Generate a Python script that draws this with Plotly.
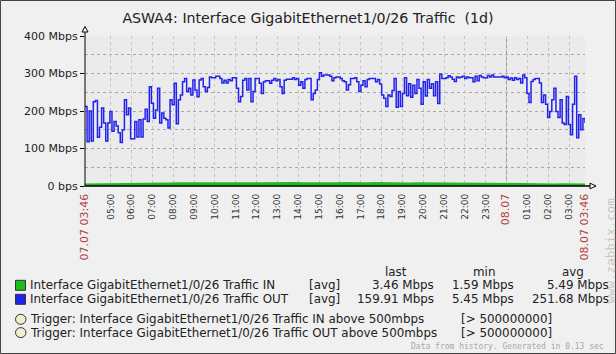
import plotly.graph_objects as go
from datetime import datetime, timedelta

# ---------------- data ----------------
title_text = "ASWA4: Interface GigabitEthernet1/0/26 Traffic  (1d)"
start_time = datetime(2023, 7, 7, 3, 46)
end_time = start_time + timedelta(hours=24)

# Traffic OUT (Mbps), evenly spaced over the 24h period
out_mbps = [
    212, 118, 200, 120, 225, 228, 130, 157, 208, 168, 120, 168, 199, 146, 172, 160,
    142, 116, 150, 230, 190, 208, 126, 126, 172, 131, 177, 131, 179, 205, 172, 265,
    221, 181, 203, 261, 168, 195, 181, 177, 155, 230, 217, 274, 166, 230, 243, 278,
    287, 252, 261, 243, 283, 256, 238, 283, 287, 265, 252, 263, 291,
    289, 289, 293, 293, 287, 275, 282, 275, 284, 281, 289, 289, 261, 225, 239, 282,
    287, 256, 287, 225, 252, 287, 287, 274, 247, 278, 281, 281, 274, 282, 287, 281,
    284, 265, 247, 282, 285, 285, 285, 289, 284, 287, 269, 278, 261, 284, 287, 287,
    230, 247, 256, 284, 302, 293, 296, 296, 296, 293, 281, 289, 291,
    291, 287, 281, 278, 256, 270, 287, 287, 289, 278, 252, 269, 281, 265, 284, 287,
    287, 287, 278, 284, 272, 243, 234, 212, 243, 239, 255, 287, 210, 252, 212, 247,
    289, 241, 273, 237, 269, 247, 284, 261, 218, 278, 240, 284, 261, 273, 241, 278,
    220, 298, 287, 287, 289, 294, 291, 285, 279, 291, 289, 291, 293,
    287, 291, 289, 289, 278, 293, 281, 295, 291, 289, 289, 295, 291, 296, 291, 291,
    291, 291, 293, 289, 291, 284, 288, 282, 289, 284, 287, 275, 296, 289, 247, 223,
    279, 284, 287, 287, 275, 223, 243, 218, 183, 199, 230, 261, 199, 183, 230, 168,
    164, 239, 164, 137, 218, 293, 129, 190, 150, 180, 168,
]

# Traffic IN (Mbps), every 30 minutes
in_mbps = [
    3.2, 3.5, 3.0, 3.8, 4.1, 3.6, 4.4, 5.2, 6.0, 6.8, 7.1, 6.5, 7.3, 6.9, 7.4, 7.0,
    6.6, 7.2, 6.8, 7.5, 7.1, 6.9, 6.4, 7.0, 6.7, 7.2, 6.5, 6.9, 7.3, 6.6, 6.8, 6.2,
    6.5, 6.0, 5.8, 6.3, 5.9, 5.5, 5.2, 5.6, 5.0, 4.6, 4.3, 4.0, 3.8, 3.5, 3.9, 3.6,
    3.46,
]

y_tick_values = [0, 100, 200, 300, 400]
y_tick_labels = ["0 bps", "100 Mbps", "200 Mbps", "300 Mbps", "400 Mbps"]
y_minor_values = [50, 150, 250, 350]

hour_labels = ["05:00", "06:00", "07:00", "08:00", "09:00", "10:00", "11:00", "12:00",
               "13:00", "14:00", "15:00", "16:00", "17:00", "18:00", "19:00", "20:00",
               "21:00", "22:00", "23:00", "08.07", "01:00", "02:00", "03:00"]
start_label = "07.07 03:46"
end_label = "08.07 03:46"

legend_header = ["last", "min", "avg"]
series_names = ["Interface GigabitEthernet1/0/26 Traffic IN",
                "Interface GigabitEthernet1/0/26 Traffic OUT"]
series_func = ["[avg]", "[avg]"]
series_last = ["3.46 Mbps", "159.91 Mbps"]
series_min = ["1.59 Mbps", "5.45 Mbps"]
series_avg = ["5.49 Mbps", "251.68 Mbps"]
trigger_names = ["Trigger: Interface GigabitEthernet1/0/26 Traffic IN above 500mbps",
                 "Trigger: Interface GigabitEthernet1/0/26 Traffic OUT above 500mbps"]
trigger_values = ["[> 500000000]", "[> 500000000]"]
footer_text = "Data from history. Generated in 0.13 sec"
watermark = "www.zabbix.com"

# ---------------- styling ----------------
W, H = 616, 354
L, R, T, B = 85, 31, 36, 168
PW, PH = W - L - R, H - T - B
FONT = "DejaVu Sans"
GREEN = "#1DBE1D"
BLUE = "#2222EE"
RED = "#B43C3C"
TXT = "#222222"
LEG_SIZE = 11.9


def px(x):
    return (x - L) / PW


def py(y):
    return (H - B - y) / PH


n_out = len(out_mbps)
t_out = [start_time + (end_time - start_time) * i / (n_out - 1) for i in range(n_out)]
n_in = len(in_mbps)
t_in = [start_time + (end_time - start_time) * i / (n_in - 1) for i in range(n_in)]

first_hour = start_time.replace(minute=0) + timedelta(hours=2)   # 05:00
x_tick_vals = ([start_time]
               + [first_hour + timedelta(hours=i) for i in range(len(hour_labels))]
               + [end_time])
big = "font-size:11px"
x_tick_text = [f"<span style='color:{RED};{big}'>{start_label}</span>"]
for h in hour_labels:
    if "." in h:
        x_tick_text.append(f"<span style='color:{RED};{big}'>{h}</span>")
    else:
        x_tick_text.append(h)
x_tick_text.append(f"<span style='color:{RED};{big}'>{end_label}</span>")

fig = go.Figure()
fig.add_trace(go.Scatter(x=t_in, y=in_mbps, mode="lines", line=dict(color=GREEN, width=2.5),
                         fill="tozeroy", fillcolor=GREEN, hoverinfo="skip"))
fig.add_trace(go.Scatter(x=t_out, y=out_mbps, mode="lines", line=dict(color=BLUE, width=1.5, shape="hv"),
                         hoverinfo="skip"))

shapes = []
# midnight darker gridline
midnight = first_hour + timedelta(hours=hour_labels.index("08.07"))
shapes.append(dict(type="line", xref="x", yref="paper", x0=midnight, x1=midnight, y0=0, y1=1,
                   line=dict(color="#9a9a9a", width=1, dash="3px,3px"), layer="below"))
# axes
shapes.append(dict(type="line", xref="paper", yref="paper", x0=px(85), x1=px(85), y0=py(186.5), y1=py(31),
                   line=dict(color="black", width=1)))
shapes.append(dict(type="line", xref="paper", yref="paper", x0=px(84.5), x1=px(590), y0=py(186), y1=py(186),
                   line=dict(color="black", width=1.3)))
# arrow heads
shapes.append(dict(type="path", xref="paper", yref="paper",
                   path=f"M {px(82)} {py(32)} L {px(88)} {py(32)} L {px(85)} {py(26.5)} Z",
                   line=dict(color="black", width=1), fillcolor="white"))
shapes.append(dict(type="path", xref="paper", yref="paper",
                   path=f"M {px(590)} {py(183.2)} L {px(590)} {py(188.8)} L {px(596)} {py(186)} Z",
                   line=dict(color="black", width=1), fillcolor="white"))
# legend swatches
for i, col in enumerate([GREEN, BLUE]):
    yc = [285.3, 299.3][i]
    shapes.append(dict(type="rect", xref="paper", yref="paper",
                       x0=px(15.5), x1=px(25.5), y0=py(yc - 5), y1=py(yc + 5),
                       line=dict(color="#333333", width=1), fillcolor=col))
for i in range(2):
    yc = [319.3, 332.6][i]
    shapes.append(dict(type="circle", xref="paper", yref="paper",
                       x0=px(15.5), x1=px(26), y0=py(yc - 5), y1=py(yc + 5),
                       line=dict(color="#333333", width=1), fillcolor="#EEEECC"))
# outer border
shapes.append(dict(type="rect", xref="paper", yref="paper",
                   x0=px(0.5), x1=px(615.5), y0=py(0.5), y1=py(353.5),
                   line=dict(color="#444444", width=1), fillcolor="rgba(0,0,0,0)"))

ann = []


def text(x, y, s, anchor="left", size=LEG_SIZE, color=TXT, family=FONT, angle=0):
    ann.append(dict(x=px(x), y=py(y), xref="paper", yref="paper", text=s, showarrow=False,
                    xanchor=anchor, yanchor="middle", textangle=angle,
                    font=dict(family=family, size=size, color=color)))


for s, xc in zip(legend_header, [396, 483.5, 572.5]):
    text(xc, 271.7, s, "center")
for i in range(2):
    yc = [285.3, 299.3][i]
    text(28, yc, series_names[i])
    text(307, yc, series_func[i])
    text(436, yc, series_last[i], "right")
    text(516, yc, series_min[i], "right")
    text(611, yc, series_avg[i], "right")
for i in range(2):
    yc = [319.3, 332.6][i]
    text(28, yc, trigger_names[i])
    text(459, yc, trigger_values[i])
text(606, 346.3, footer_text, "right", size=8, color="#A8A8A8", family="DejaVu Sans Mono")
ann.append(dict(x=px(609.5), y=py(251), xref="paper", yref="paper", text=watermark, showarrow=False,
                xanchor="center", yanchor="middle", textangle=-90,
                font=dict(family="DejaVu Sans Mono", size=12.5, color="#C8C8C8")))

fig.update_layout(
    width=W, height=H,
    margin=dict(l=L, r=R, t=T, b=B, pad=0),
    paper_bgcolor="#F0F0F0",
    plot_bgcolor="#EBEBEB",
    showlegend=False,
    title=dict(text=title_text, x=0.5, xanchor="center", y=1 - 18 / H, yanchor="middle",
               font=dict(family=FONT, size=14.2, color=TXT)),
    font=dict(family=FONT, color=TXT),
    shapes=shapes,
    annotations=ann,
)
fig.update_xaxes(range=[start_time, end_time], tickmode="array", tickvals=x_tick_vals,
                 ticktext=x_tick_text, tickangle=-90, tickfont=dict(size=9, color="#333333"),
                 ticklabelstandoff=5,
                 showgrid=True, gridcolor="#C4C4C4", gridwidth=1, griddash="3px,3px",
                 showline=False, zeroline=False, ticks="", fixedrange=True)
fig.update_yaxes(range=[0, 400], tickmode="array", tickvals=y_tick_values, ticktext=y_tick_labels,
                 tickfont=dict(size=11, color=TXT), showgrid=True, gridcolor="#A8A8A8",
                 gridwidth=1, griddash="3px,3px", ticks="outside", ticklen=4, tickcolor="black",
                 minor=dict(tickvals=y_minor_values, showgrid=True, gridcolor="#A8A8A8",
                            griddash="3px,3px", ticks=""),
                 showline=False, zeroline=False, fixedrange=True)

fig.write_html("out.html")
